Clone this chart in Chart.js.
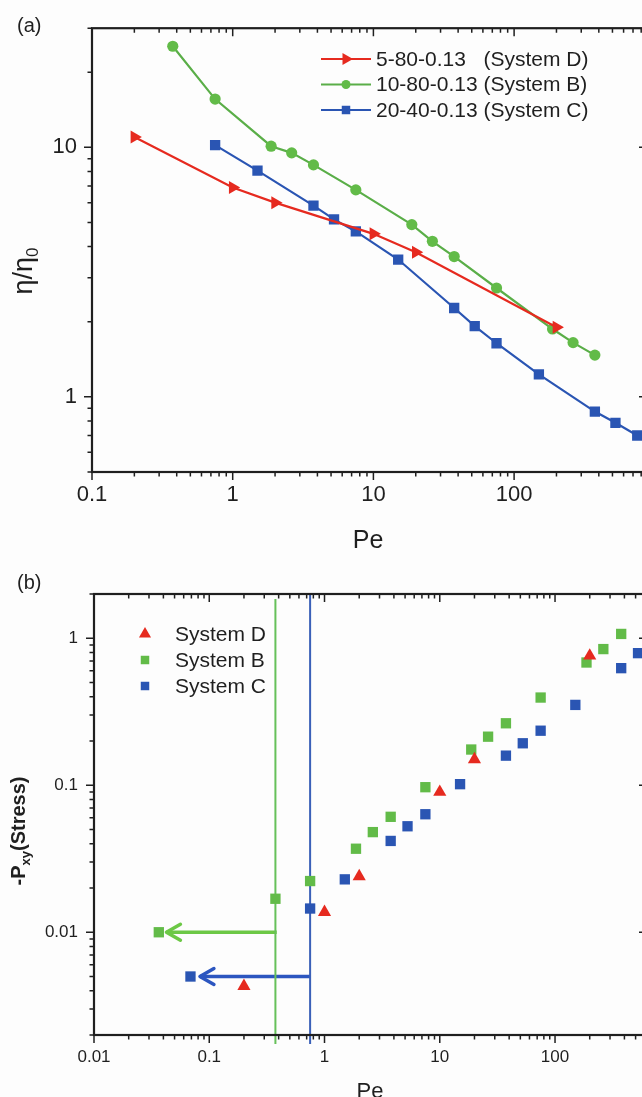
<!DOCTYPE html>
<html>
<head>
<meta charset="utf-8">
<script src="https://cdn.jsdelivr.net/npm/chart.js@4.4.1/dist/chart.umd.min.js"></script>
<style>
  html, body { margin: 0; padding: 0; background: #fdfdfd; overflow: hidden; width: 642px; height: 1097px; }
  canvas { position: absolute; left: 0; }
  #chartA { top: 0; }
  #chartB { top: 560px; }
</style>
</head>
<body>
<canvas id="chartA" width="660" height="560"></canvas>
<canvas id="chartB" width="660" height="537"></canvas>
<script>
// ---- panel (a): eta/eta0 vs Pe ----
const peD = [0.2, 1, 2, 10, 20, 200];
const etaD = [11.0, 6.9, 6.0, 4.5, 3.8, 1.9];
const peB = [0.375, 0.75, 1.875, 2.625, 3.75, 7.5, 18.75, 26.25, 37.5, 75, 187.5, 262.5, 375];
const etaB = [25.4, 15.6, 10.1, 9.5, 8.5, 6.75, 4.9, 4.2, 3.65, 2.73, 1.87, 1.65, 1.47];
const peC = [0.75, 1.5, 3.75, 5.25, 7.5, 15, 37.5, 52.5, 75, 150, 375, 525, 750];
const etaC = [10.2, 8.06, 5.84, 5.14, 4.6, 3.55, 2.27, 1.92, 1.64, 1.23, 0.873, 0.787, 0.70];
const labelsA = ['5-80-0.13   (System D)', '10-80-0.13 (System B)', '20-40-0.13 (System C)'];

// ---- panel (b): stress vs Pe ----
const sPeD = [0.2, 1, 2, 10, 20, 200];
const stressD = [0.0043, 0.0137, 0.024, 0.09, 0.15, 0.76];
const sPeB = [0.375, 0.75, 1.875, 2.625, 3.75, 7.5, 18.75, 26.25, 37.5, 75, 187.5, 262.5, 375];
const stressB = [0.0169, 0.0223, 0.037, 0.048, 0.061, 0.097, 0.175, 0.214, 0.264, 0.395, 0.684, 0.844, 1.07];
const sPeC = [0.75, 1.5, 3.75, 5.25, 7.5, 15, 37.5, 52.5, 75, 150, 375, 525];
const stressC = [0.0145, 0.0229, 0.0418, 0.0526, 0.0635, 0.1017, 0.159, 0.193, 0.235, 0.352, 0.626, 0.792];
const labelsB = ['System D', 'System B', 'System C'];

// critical Pe guides and extrapolated low-Pe points (green = B, blue = C)
const guidePe = [0.375, 0.75];
const guideTop = [1.85, 2.0];
const guideBottom = 0.00174;
const arrowFromPe = [0.385, 0.76];
const arrowTipPe = [0.0425, 0.083];
const arrowStress = [0.01, 0.005];
const zeroPe = [0.0365, 0.0687];

// tick labels
const peTicksA = [0.1, 1, 10, 100];
const etaTicks = [1, 10];
const peTicksB = [0.01, 0.1, 1, 10, 100];
const stressTicks = [0.01, 0.1, 1];

const FONT = "'Liberation Sans', Arial, Helvetica, sans-serif";
const INK = '#1f1f1f';
const RED = '#e62a1f';
const GREEN = '#62bb48';
const GREEN_LINE = '#5aae48';
const BLUE = '#2a55b3';

Chart.defaults.font.family = FONT;
Chart.defaults.color = INK;

const pts = (xs, ys) => xs.map((x, i) => ({ x: x, y: ys[i] }));

// every 1..9 x 10^n position inside [min, max]
function logTicks(min, max) {
  const out = [];
  for (let e = Math.floor(Math.log10(min)) - 1; e <= Math.ceil(Math.log10(max)); e++) {
    for (let k = 1; k < 10; k++) {
      const v = k * Math.pow(10, e);
      if (v >= min * 0.999 && v <= max * 1.001) out.push(v);
    }
  }
  return out;
}
const isDecade = v => Math.abs(Math.log10(v) - Math.round(Math.log10(v))) < 1e-6;

function logAxis(min, max, labelled, size, pad, extent, vertical) {
  return {
    type: 'logarithmic',
    min: min,
    max: max,
    afterBuildTicks: s => { s.ticks = labelled.map(v => ({ value: v })); },
    afterFit: s => { if (vertical) s.width = extent; else s.height = extent; },
    ticks: { autoSkip: false, maxRotation: 0, padding: pad, color: INK, font: { size: size }, callback: v => String(v) },
    grid: { display: false, drawTicks: false },
    border: { display: false }
  };
}

// box frame with Origin-style ticks (out on bottom/left, in on top/right)
const framePlugin = {
  id: 'frame',
  afterDraw(chart) {
    const { ctx, chartArea: a, scales: { x, y } } = chart;
    ctx.save();
    ctx.strokeStyle = INK;
    ctx.lineWidth = 1.5;
    ctx.beginPath();
    logTicks(x.min, x.max).forEach(v => {
      const px = x.getPixelForValue(v);
      const len = isDecade(v) ? 8 : 4.5;
      ctx.moveTo(px, a.bottom); ctx.lineTo(px, a.bottom + len);
      ctx.moveTo(px, a.top); ctx.lineTo(px, a.top + len);
    });
    logTicks(y.min, y.max).forEach(v => {
      const py = y.getPixelForValue(v);
      const len = isDecade(v) ? 8 : 4.5;
      ctx.moveTo(a.left, py); ctx.lineTo(a.left - len, py);
      ctx.moveTo(a.right, py); ctx.lineTo(a.right - len, py);
    });
    ctx.stroke();
    ctx.lineWidth = 2.2;
    ctx.strokeRect(a.left, a.top, a.right - a.left, a.bottom - a.top);
    ctx.restore();
  }
};

// text made of parts with optional sub offsets, centred on (cx, cy)
function richText(ctx, parts, cx, cy, angle) {
  ctx.save();
  ctx.translate(cx, cy);
  ctx.rotate(angle);
  ctx.fillStyle = INK;
  ctx.textBaseline = 'alphabetic';
  ctx.textAlign = 'left';
  let total = 0;
  parts.forEach(p => { ctx.font = p.font; total += ctx.measureText(p.t).width; });
  let x = -total / 2;
  parts.forEach(p => {
    ctx.font = p.font;
    ctx.fillText(p.t, x, p.dy || 0);
    x += ctx.measureText(p.t).width;
  });
  ctx.restore();
}

const decorA = {
  id: 'decorA',
  afterDraw(chart) {
    const ctx = chart.ctx;
    // legend
    chart.data.datasets.forEach((ds, i) => {
      const yy = 59 + i * 25.5;
      ctx.save();
      ctx.strokeStyle = ds.borderColor;
      ctx.lineWidth = 2;
      ctx.beginPath(); ctx.moveTo(321, yy); ctx.lineTo(371, yy); ctx.stroke();
      ctx.fillStyle = ds.pointBackgroundColor;
      ctx.strokeStyle = ds.pointBackgroundColor;
      Chart.helpers.drawPoint(ctx, { pointStyle: ds.pointStyle, radius: ds.legendRadius, rotation: ds.pointRotation || 0, borderWidth: 0 }, 346, yy);
      ctx.fillStyle = INK;
      ctx.font = '21px ' + FONT;
      ctx.textBaseline = 'middle';
      ctx.fillText(ds.label, 376, yy + 1);
      ctx.restore();
    });
    ctx.save();
    ctx.fillStyle = INK;
    ctx.font = '20px ' + FONT;
    ctx.fillText('(a)', 17, 32);
    ctx.restore();
    richText(ctx, [{ t: 'Pe', font: '25px ' + FONT }], 368, 548, 0);
    richText(ctx, [
      { t: 'η/η', font: '27px ' + FONT },
      { t: '0', font: '17px ' + FONT, dy: 6 }
    ], 32, 271, -Math.PI / 2);
  }
};

const decorB = {
  id: 'decorB',
  afterDatasetsDraw(chart) {
    const ctx = chart.ctx;
    chart.data.datasets.forEach((ds, i) => {
      if (!ds.arrowHead) return;
      const tip = chart.getDatasetMeta(i).data[1];
      ctx.save();
      ctx.strokeStyle = ds.borderColor;
      ctx.lineWidth = 3.5;
      ctx.lineCap = 'round';
      ctx.lineJoin = 'round';
      ctx.beginPath();
      ctx.moveTo(tip.x + 14, tip.y - 8);
      ctx.lineTo(tip.x, tip.y);
      ctx.lineTo(tip.x + 14, tip.y + 8);
      ctx.stroke();
      ctx.restore();
    });
  },
  afterDraw(chart) {
    const ctx = chart.ctx;
    chart.data.datasets.slice(0, 3).forEach((ds, i) => {
      const yy = 74 + i * 26;
      ctx.save();
      ctx.fillStyle = ds.pointBackgroundColor;
      ctx.strokeStyle = ds.pointBackgroundColor;
      Chart.helpers.drawPoint(ctx, { pointStyle: ds.pointStyle, radius: ds.pointStyle === 'triangle' ? 7 : 6, rotation: 0, borderWidth: 0 }, 145, yy);
      ctx.fillStyle = INK;
      ctx.font = '21px ' + FONT;
      ctx.textBaseline = 'middle';
      ctx.fillText(ds.label, 175, yy + 1);
      ctx.restore();
    });
    ctx.save();
    ctx.fillStyle = INK;
    ctx.font = '20px ' + FONT;
    ctx.fillText('(b)', 17, 29);
    ctx.restore();
    richText(ctx, [{ t: 'Pe', font: '22px ' + FONT }], 370, 538, 0);
    richText(ctx, [
      { t: '-P', font: 'bold 20px ' + FONT },
      { t: 'xy', font: 'bold 13px ' + FONT, dy: 5 },
      { t: '(Stress)', font: 'bold 20px ' + FONT }
    ], 25, 271, -Math.PI / 2);
  }
};

const lineSet = (label, xs, ys, color, lineColor, style, radius, legendRadius, rot) => ({
  label: label,
  data: pts(xs, ys),
  showLine: true,
  borderColor: lineColor,
  borderWidth: 2.2,
  backgroundColor: color,
  pointBackgroundColor: color,
  pointBorderColor: color,
  pointBorderWidth: 0,
  pointStyle: style,
  pointRadius: radius,
  pointRotation: rot || 0,
  legendRadius: legendRadius
});

new Chart(document.getElementById('chartA'), {
  type: 'scatter',
  data: {
    datasets: [
      lineSet(labelsA[0], peD, etaD, RED, RED, 'triangle', 7.5, 7, 90),
      lineSet(labelsA[1], peB, etaB, GREEN, GREEN_LINE, 'circle', 5.6, 4.5, 0),
      lineSet(labelsA[2], peC, etaC, BLUE, BLUE, 'rect', 7.3, 6, 0)
    ]
  },
  options: {
    responsive: false,
    animation: false,
    events: [],
    layout: { padding: { top: 27, right: 13, left: 0, bottom: 0 } },
    plugins: { legend: { display: false }, tooltip: { enabled: false } },
    scales: {
      x: logAxis(0.1, 880, peTicksA, 22, 10, 88, false),
      y: logAxis(0.5, 30, etaTicks, 22, 15, 92, true)
    }
  },
  plugins: [framePlugin, decorA]
});

const markSet = (label, xs, ys, color, style, radius) => ({
  label: label,
  data: pts(xs, ys),
  showLine: false,
  backgroundColor: color,
  borderColor: color,
  pointBackgroundColor: color,
  pointBorderColor: color,
  pointBorderWidth: 0,
  pointStyle: style,
  pointRadius: radius
});

const guide = (i, color, width, arrow) => arrow ? {
  data: [{ x: arrowFromPe[i], y: arrowStress[i] }, { x: arrowTipPe[i], y: arrowStress[i] }],
  showLine: true, borderColor: color, borderWidth: width, pointRadius: 0, arrowHead: true
} : {
  data: [{ x: guidePe[i], y: guideTop[i] }, { x: guidePe[i], y: guideBottom }],
  showLine: true, borderColor: color, borderWidth: width, pointRadius: 0, clip: false
};

new Chart(document.getElementById('chartB'), {
  type: 'scatter',
  data: {
    datasets: [
      markSet(labelsB[0], sPeD, stressD, RED, 'triangle', 7.6),
      markSet(labelsB[1], sPeB, stressB, GREEN, 'rect', 7.3),
      markSet(labelsB[2], sPeC, stressC, BLUE, 'rect', 7.3),
      guide(0, '#66c05a', 2, false),
      guide(1, '#3a60b8', 2, false),
      guide(0, '#6cc846', 3.5, true),
      guide(1, '#2c56c0', 3.5, true),
      markSet('B0', [zeroPe[0]], [arrowStress[0]], GREEN, 'rect', 7.3),
      markSet('C0', [zeroPe[1]], [arrowStress[1]], BLUE, 'rect', 7.3)
    ]
  },
  options: {
    responsive: false,
    animation: false,
    events: [],
    layout: { padding: { top: 34, right: 13, left: 0, bottom: 0 } },
    plugins: { legend: { display: false }, tooltip: { enabled: false } },
    scales: {
      x: logAxis(0.01, 628, peTicksB, 17, 12, 62, false),
      y: logAxis(0.002, 2, stressTicks, 17, 16, 94, true)
    }
  },
  plugins: [framePlugin, decorB]
});
</script>
</body>
</html>
